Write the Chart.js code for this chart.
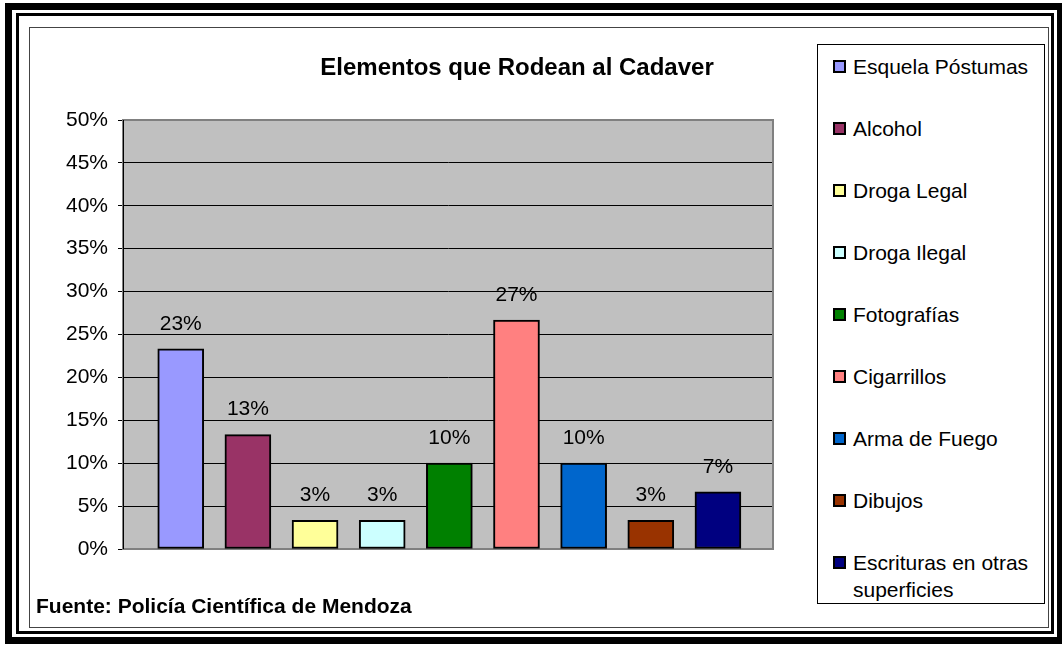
<!DOCTYPE html>
<html>
<head>
<meta charset="utf-8">
<script src="https://cdn.jsdelivr.net/npm/chart.js@4.4.1/dist/chart.umd.min.js"></script>
<style>
  html, body { margin:0; padding:0; background:#fff; }
  body { width:1062px; height:645px; position:relative; overflow:hidden; font-family:"Liberation Sans", Arial, sans-serif; }
  .frame { position:absolute; box-sizing:border-box; }
  #f1 { left:5px; top:3px; width:1059px; height:641px; border:7px solid #000; }
  #f2 { left:16px; top:13px; width:1038px; height:621px; border:3px solid #000; }
  #f3 { left:29px; top:27px; width:1020px; height:601px; border:1px solid #444; }
  #wrap { position:absolute; left:0; top:0; width:1062px; height:645px; }
  #title { position:absolute; left:317px; width:400px; top:53px; text-align:center; font-weight:bold; font-size:24px; line-height:28px; white-space:nowrap; }
  #footer { position:absolute; left:36px; top:593px; font-weight:bold; font-size:21px; line-height:26px; white-space:nowrap; }
  #legend { position:absolute; left:817px; top:44px; width:228px; height:560px; box-sizing:border-box; border:1px solid #000; background:#fff; }
  .item { position:absolute; left:15px; font-size:21px; line-height:27px; white-space:nowrap; }
  .sw { position:absolute; left:0; width:13px; height:13px; box-sizing:border-box; border:2px solid #000; }
  .txt { position:absolute; left:20px; }
</style>
</head>
<body>
<div class="frame" id="f1"></div>
<div class="frame" id="f2"></div>
<div class="frame" id="f3"></div>
<div id="wrap"><canvas id="c"></canvas></div>
<div id="title">Elementos que Rodean al Cadaver</div>
<div id="footer">Fuente: Policía Científica de Mendoza</div>
<div id="legend"></div>
<script>
const categories = ["Esquela Póstumas","Alcohol","Droga Legal","Droga Ilegal","Fotografías","Cigarrillos","Arma de Fuego","Dibujos","Escrituras en otras superficies"];
const values = [23.33, 13.33, 3.33, 3.33, 10, 26.67, 10, 3.33, 6.67];
const colors = ["#9999FF","#993366","#FFFF99","#CCFFFF","#008000","#FF8080","#0066CC","#993300","#000080"];
const yTicks = [0,5,10,15,20,25,30,35,40,45,50];

// HTML legend
const leg = document.getElementById('legend');
categories.forEach((name, i) => {
  const it = document.createElement('div');
  it.className = 'item';
  const cy = 65 + 62 * i - 44; // center relative to legend box
  it.style.top = (cy - 13.5) + 'px';
  const sw = document.createElement('div');
  sw.className = 'sw';
  sw.style.background = colors[i];
  sw.style.top = '7px';
  const tx = document.createElement('div');
  tx.className = 'txt';
  if (name === "Escrituras en otras superficies") {
    tx.innerHTML = "Escrituras en otras<br>superficies";
  } else {
    tx.textContent = name;
  }
  it.appendChild(sw); it.appendChild(tx);
  leg.appendChild(it);
});

const plotBg = {
  id: 'plotBg',
  beforeDraw(chart) {
    const a = chart.chartArea, ctx = chart.ctx;
    ctx.save();
    ctx.fillStyle = '#C0C0C0';
    ctx.fillRect(a.left, a.top, a.right - a.left, a.bottom - a.top);
    ctx.restore();
  },
  beforeDatasetsDraw(chart) {
    const a = chart.chartArea, ctx = chart.ctx;
    ctx.save();
    ctx.strokeStyle = '#808080';
    ctx.lineWidth = 2;
    ctx.strokeRect(a.left, a.top, a.right - a.left, a.bottom - a.top);
    ctx.strokeStyle = '#000';
    ctx.lineWidth = 1;
    ctx.beginPath();
    ctx.moveTo(a.left + 0.5, a.top);
    ctx.lineTo(a.left + 0.5, a.bottom);
    ctx.stroke();
    ctx.restore();
  }
};

const dataLabels = {
  id: 'dataLabels',
  afterDatasetsDraw(chart) {
    const ctx = chart.ctx;
    const meta = chart.getDatasetMeta(0);
    ctx.save();
    ctx.font = '21px "Liberation Sans", Arial, sans-serif';
    ctx.fillStyle = '#000';
    ctx.textAlign = 'center';
    ctx.textBaseline = 'middle';
    meta.data.forEach((bar, i) => {
      ctx.fillText(Math.round(values[i]) + '%', bar.x, bar.y - 25);
    });
    ctx.restore();
  }
};

new Chart(document.getElementById('c'), {
  type: 'bar',
  data: {
    datasets: [{
      data: values.map((v, i) => ({ x: i, y: v })),
      backgroundColor: colors,
      borderColor: '#000',
      borderWidth: 2,
      borderSkipped: false,
      barThickness: 46
    }]
  },
  options: {
    responsive: true,
    maintainAspectRatio: false,
    animation: false,
    layout: { padding: { left: 0, top: 120, right: 289, bottom: 96 } },
    plugins: { legend: { display: false }, tooltip: { enabled: false }, title: { display: false } },
    scales: {
      x: { type: 'linear', min: -0.86, max: 8.82, offset: false, display: false },
      y: {
        min: 0, max: 50,
        afterBuildTicks(scale) { scale.ticks = yTicks.map(v => ({ value: v })); },
        afterFit(scale) { scale.width = 123; },
        ticks: {
          callback: v => v + '%',
          color: '#000',
          padding: 10,
          font: { family: '"Liberation Sans", Arial, sans-serif', size: 21 }
        },
        grid: { color: '#000', lineWidth: 1, tickLength: 5, drawTicks: true },
        border: { display: true, color: '#000', width: 1 }
      }
    }
  },
  plugins: [plotBg, dataLabels]
});
</script>
</body>
</html>
